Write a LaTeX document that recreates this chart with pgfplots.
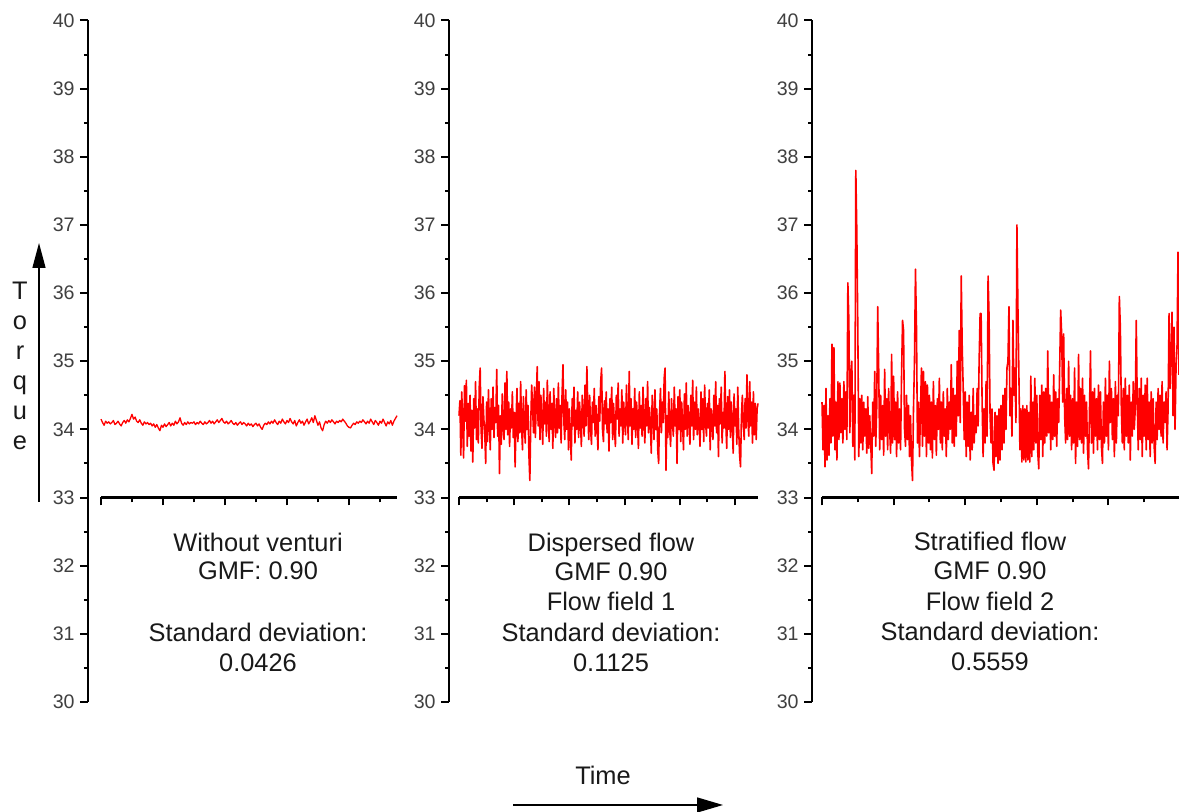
\documentclass[border=0pt]{standalone}
\usepackage{fontspec}
\setmainfont{Liberation Sans}
\usepackage{pgfplots}
\usepackage{pgfplotstable}
\pgfplotsset{compat=1.18}
\usetikzlibrary{arrows.meta}

% Panel 1: without venturi
\pgfplotstableread[row sep=\\, header=false]{
34.15\\34.10\\34.06\\34.12\\34.09\\34.11\\34.08\\34.10\\34.13\\34.07\\34.09\\34.12\\34.08\\34.05\\34.10\\34.13\\34.09\\34.14\\34.11\\34.16\\
34.22\\34.15\\34.18\\34.12\\34.10\\34.14\\34.09\\34.06\\34.11\\34.08\\34.10\\34.07\\34.09\\34.05\\34.08\\34.03\\34.07\\34.02\\33.98\\34.06\\
34.03\\34.08\\34.04\\34.07\\34.10\\34.05\\34.09\\34.06\\34.12\\34.08\\34.11\\34.17\\34.09\\34.06\\34.10\\34.07\\34.11\\34.08\\34.10\\34.09\\
34.11\\34.07\\34.10\\34.08\\34.12\\34.09\\34.07\\34.11\\34.08\\34.10\\34.13\\34.09\\34.12\\34.08\\34.11\\34.14\\34.10\\34.13\\34.16\\34.11\\
34.09\\34.12\\34.08\\34.10\\34.13\\34.09\\34.07\\34.10\\34.06\\34.09\\34.11\\34.07\\34.10\\34.08\\34.05\\34.09\\34.06\\34.08\\34.04\\34.07\\
34.09\\34.05\\34.08\\34.03\\34.00\\34.06\\34.09\\34.07\\34.11\\34.08\\34.12\\34.09\\34.14\\34.10\\34.07\\34.12\\34.09\\34.15\\34.11\\34.08\\
34.13\\34.10\\34.16\\34.11\\34.08\\34.13\\34.05\\34.10\\34.14\\34.09\\34.12\\34.06\\34.11\\34.15\\34.08\\34.12\\34.17\\34.10\\34.20\\34.13\\
34.06\\34.11\\34.02\\33.98\\34.07\\34.12\\34.09\\34.13\\34.10\\34.14\\34.11\\34.08\\34.12\\34.10\\34.13\\34.11\\34.15\\34.12\\34.09\\34.05\\
34.03\\34.02\\34.06\\34.09\\34.07\\34.11\\34.09\\34.12\\34.10\\34.14\\34.11\\34.08\\34.12\\34.09\\34.15\\34.11\\34.07\\34.13\\34.10\\34.06\\
34.12\\34.09\\34.15\\34.10\\34.05\\34.11\\34.08\\34.13\\34.06\\34.12\\34.16\\34.20\\
}\dataA

% Panel 2: dispersed flow
\pgfplotstableread[row sep=\\, header=false]{
34.20\\34.42\\33.62\\34.55\\34.05\\33.58\\34.64\\34.12\\34.72\\33.75\\34.38\\33.90\\34.50\\33.68\\34.28\\33.52\\34.45\\34.02\\34.70\\33.85\\
34.30\\33.80\\34.62\\34.90\\34.00\\33.72\\34.48\\34.15\\33.95\\33.50\\34.40\\33.82\\34.58\\34.10\\33.70\\34.45\\34.00\\34.62\\33.88\\34.32\\
34.10\\34.88\\33.90\\34.35\\33.35\\34.20\\33.78\\34.52\\34.05\\33.85\\34.68\\34.00\\34.85\\33.92\\34.40\\33.75\\34.30\\34.02\\34.55\\33.88\\
34.25\\33.45\\34.12\\34.60\\33.82\\34.38\\33.95\\34.70\\34.05\\33.70\\34.48\\34.10\\33.80\\34.58\\34.00\\34.35\\33.62\\33.25\\34.10\\34.65\\
34.30\\33.95\\34.62\\33.88\\34.42\\34.92\\34.05\\34.70\\33.85\\34.50\\34.15\\33.78\\34.60\\34.08\\34.40\\33.90\\34.72\\34.20\\33.82\\34.55\\
34.00\\34.38\\33.72\\34.60\\34.10\\33.88\\34.45\\33.95\\34.68\\34.02\\34.35\\33.80\\34.50\\34.95\\34.10\\33.85\\34.58\\34.00\\34.40\\33.70\\
34.30\\33.92\\33.55\\34.45\\34.05\\34.62\\33.80\\34.28\\34.00\\34.55\\33.88\\34.40\\34.12\\33.75\\34.50\\34.20\\33.90\\34.65\\34.05\\34.92\\
34.30\\33.85\\34.50\\34.02\\33.78\\34.40\\34.10\\34.60\\33.90\\34.35\\34.05\\33.70\\34.48\\34.12\\34.70\\34.90\\34.00\\33.82\\34.42\\34.08\\
34.55\\33.95\\34.30\\33.68\\34.45\\34.10\\34.62\\33.85\\34.38\\34.00\\33.75\\34.50\\34.15\\34.68\\33.90\\34.30\\34.05\\34.58\\33.80\\34.40\\
34.10\\33.92\\34.65\\34.20\\33.85\\34.85\\34.05\\34.45\\33.78\\34.30\\34.00\\34.60\\33.88\\34.40\\34.12\\33.72\\34.55\\34.02\\34.35\\33.90\\
34.62\\34.10\\33.80\\34.45\\34.05\\34.70\\33.95\\34.32\\34.08\\33.65\\34.50\\34.15\\33.85\\34.58\\34.00\\34.30\\33.70\\33.50\\34.25\\34.60\\
33.95\\34.40\\34.10\\34.75\\34.90\\33.40\\34.20\\33.88\\34.55\\34.02\\33.75\\34.45\\34.10\\33.90\\34.62\\34.05\\34.30\\33.50\\34.48\\34.00\\
34.58\\33.82\\34.40\\34.10\\33.70\\34.52\\34.00\\34.68\\33.90\\34.35\\34.12\\33.78\\34.50\\34.05\\34.72\\33.85\\34.40\\34.00\\34.62\\33.92\\
34.30\\34.08\\33.75\\34.55\\34.00\\34.45\\33.82\\34.65\\34.10\\33.90\\34.38\\34.02\\34.58\\33.70\\34.30\\34.12\\33.85\\34.50\\34.05\\34.70\\
33.95\\34.35\\33.60\\34.45\\34.08\\34.62\\33.80\\34.25\\34.02\\34.85\\34.10\\33.72\\34.48\\34.00\\34.58\\33.88\\34.40\\34.10\\33.65\\34.52\\
34.05\\34.30\\33.78\\34.62\\34.00\\33.62\\33.45\\34.20\\34.50\\34.10\\33.85\\34.45\\34.02\\34.80\\34.15\\33.90\\34.70\\34.05\\34.40\\33.80\\
34.55\\33.92\\34.38\\33.85\\34.30\\34.38\\
}\dataB

% Panel 3: stratified flow
\pgfplotstableread[row sep=\\, header=false]{
34.40\\33.70\\34.35\\33.45\\34.60\\33.55\\34.20\\33.62\\34.45\\33.80\\35.25\\33.90\\35.20\\33.70\\34.40\\33.55\\34.70\\33.85\\34.68\\33.95\\
34.45\\33.80\\34.70\\34.00\\34.55\\33.85\\36.15\\35.60\\33.95\\34.80\\35.00\\33.75\\34.50\\33.55\\37.80\\36.90\\35.50\\33.60\\34.45\\33.80\\
34.50\\33.70\\34.40\\33.90\\34.30\\33.65\\34.48\\33.72\\34.20\\33.80\\33.35\\34.40\\33.90\\34.85\\33.75\\34.30\\35.80\\34.90\\33.70\\34.50\\
33.85\\34.35\\33.62\\34.88\\33.90\\34.45\\33.70\\34.60\\34.00\\33.65\\35.10\\33.80\\34.78\\33.85\\34.40\\33.60\\34.55\\33.80\\34.30\\33.70\\
34.80\\35.60\\35.45\\34.00\\33.75\\34.50\\33.85\\34.35\\33.60\\34.20\\33.55\\33.25\\34.30\\35.00\\36.35\\35.50\\33.80\\34.40\\33.60\\34.25\\
34.90\\33.75\\34.85\\33.90\\34.70\\33.60\\34.65\\33.80\\34.50\\33.70\\34.40\\33.58\\34.70\\33.85\\34.35\\33.62\\34.45\\34.00\\34.75\\33.80\\
34.40\\33.70\\34.55\\33.90\\34.30\\33.60\\34.60\\33.85\\34.40\\34.00\\34.95\\33.80\\34.60\\33.75\\34.50\\33.90\\35.00\\34.20\\35.45\\34.10\\
36.25\\35.20\\34.60\\33.85\\34.55\\33.60\\34.40\\33.75\\34.50\\33.55\\34.25\\33.70\\34.60\\33.80\\34.20\\33.95\\34.60\\34.05\\35.00\\35.70\\
35.70\\34.40\\33.60\\34.30\\33.80\\34.70\\33.90\\36.25\\35.65\\34.20\\33.80\\34.30\\33.50\\33.40\\34.25\\33.60\\34.20\\33.50\\34.30\\33.55\\
34.35\\33.70\\34.50\\33.80\\34.60\\34.00\\34.90\\35.00\\35.80\\34.20\\34.60\\33.90\\35.60\\34.50\\34.90\\34.10\\37.00\\35.80\\34.80\\33.70\\
34.30\\33.52\\34.35\\33.55\\34.30\\33.52\\34.35\\33.55\\34.25\\33.52\\34.78\\33.60\\34.40\\33.70\\34.75\\33.80\\34.50\\33.65\\33.42\\34.50\\
33.85\\34.65\\33.60\\34.55\\33.80\\34.60\\33.90\\35.15\\33.95\\34.50\\33.70\\34.40\\33.85\\34.80\\33.90\\34.55\\33.75\\34.45\\34.10\\34.90\\
35.75\\35.40\\34.40\\35.40\\34.20\\33.80\\34.60\\33.85\\35.00\\33.90\\34.50\\33.70\\34.45\\33.80\\34.90\\33.50\\34.40\\33.75\\35.10\\33.85\\
34.60\\33.80\\34.75\\33.65\\34.50\\33.90\\34.40\\33.70\\33.42\\34.30\\35.15\\33.80\\34.55\\33.65\\34.60\\33.90\\34.45\\33.70\\34.65\\33.85\\
34.55\\33.75\\33.50\\34.40\\33.80\\34.75\\33.90\\34.50\\33.70\\35.00\\34.10\\34.60\\33.85\\34.45\\33.60\\34.70\\33.80\\34.50\\34.20\\35.95\\
35.50\\34.30\\33.80\\34.60\\33.70\\34.75\\33.90\\34.50\\33.80\\34.65\\33.55\\34.40\\33.90\\34.70\\34.00\\34.30\\35.60\\34.40\\33.70\\34.60\\
33.85\\34.75\\33.60\\34.50\\33.90\\34.65\\33.70\\34.75\\33.85\\34.40\\33.60\\34.55\\33.80\\34.45\\33.75\\33.50\\34.40\\33.85\\34.60\\34.00\\
34.50\\33.90\\34.70\\33.80\\34.40\\34.10\\34.55\\33.70\\34.30\\35.70\\34.60\\35.10\\35.72\\34.20\\35.50\\34.00\\34.90\\35.20\\36.60\\34.80\\
}\dataC

\definecolor{ticklab}{HTML}{404040}

\pgfplotsset{
  yonly/.style={
    scale only axis, width=2pt, height=340.75pt,
    xmin=0, xmax=1, ymin=30, ymax=40, enlargelimits=false,
    axis y line=left, axis x line=none,
    axis line style={-, line width=1.2pt, black},
    ytick={30,31,...,40}, minor y tick num=1,
    tick align=outside, major tick length=4pt, minor tick length=2pt,
    every tick/.style={black, line width=1pt},
    yticklabel style={font=\fontsize{9.8}{11}\selectfont, text=ticklab, inner sep=2.5pt},
    /pgf/number format/assume math mode=true,
    anchor=south west,
  },
  data/.style={
    scale only axis, height=238.5pt,
    ymin=33, ymax=40, enlargelimits=false,
    axis x line=bottom, axis y line=none,
    axis line style={-, line width=1.2pt, black},
    xticklabels={},
    tick align=outside, major tick length=4pt, minor tick length=2.5pt,
    every tick/.style={black, line width=1pt},
    anchor=south west, clip=false,
  },
  sig/.style={red, line width=0.6pt, mark=none, line join=round},
}

\begin{document}
\begin{tikzpicture}
\useasboundingbox (0pt,0pt) rectangle (589.5pt,406pt);

% ---- Panel 1
\begin{axis}[yonly, at={(44pt,55pt)}]
\end{axis}
\begin{axis}[data, at={(50.5pt,157.25pt)}, width=148pt,
  xmin=0, xmax=191, xtick={0,40,...,160}, minor xtick={20,60,...,180}]
\addplot[sig, line width=0.65pt] table[x expr=\coordindex, y index=0]{\dataA};
\end{axis}

% ---- Panel 2
\begin{axis}[yonly, at={(224.5pt,55pt)}]
\end{axis}
\begin{axis}[data, at={(229.5pt,157.25pt)}, width=149.5pt,
  xmin=0, xmax=325, xtick={0,60,...,300}, minor xtick={30,90,...,270}]
\addplot[sig, line width=0.8pt] table[x expr=\coordindex, y index=0]{\dataB};
\end{axis}

% ---- Panel 3
\begin{axis}[yonly, at={(406pt,55pt)}]
\end{axis}
\begin{axis}[data, at={(411pt,157.25pt)}, width=178.5pt,
  xmin=0, xmax=359, xtick={0,72,...,288}, minor xtick={36,108,...,324}]
\addplot[sig, line width=0.8pt] table[x expr=\coordindex, y index=0]{\dataC};
\end{axis}

% ---- annotations
\tikzset{ann/.style={anchor=base, font=\fontsize{12.7}{14.5}\selectfont, text=black!90, inner sep=0pt}}
\node[ann] at (129pt,130pt) {Without venturi};
\node[ann] at (129pt,116pt) {GMF: 0.90};
\node[ann] at (129pt,85pt) {Standard deviation:};
\node[ann] at (129pt,70pt) {0.0426};

\node[ann] at (305.5pt,130pt) {Dispersed flow};
\node[ann] at (305.5pt,115.5pt) {GMF 0.90};
\node[ann] at (305.5pt,100.5pt) {Flow field 1};
\node[ann] at (305.5pt,85pt) {Standard deviation:};
\node[ann] at (305.5pt,70pt) {0.1125};

\node[ann] at (495pt,130.5pt) {Stratified flow};
\node[ann] at (495pt,116pt) {GMF 0.90};
\node[ann] at (495pt,100.5pt) {Flow field 2};
\node[ann] at (495pt,85.5pt) {Standard deviation:};
\node[ann] at (495pt,70.5pt) {0.5559};

% Torque label and arrow
\node[ann] at (10pt,256pt) {T};
\node[ann] at (10pt,241pt) {o};
\node[ann] at (10pt,226pt) {r};
\node[ann] at (10pt,211pt) {q};
\node[ann] at (10pt,196pt) {u};
\node[ann] at (10pt,181pt) {e};
\draw[line width=0.7pt, -{Triangle[length=12.5pt,width=6.5pt]}] (19.5pt,155pt) -- (19.5pt,284.5pt);

% Time label and arrow
\node[ann] at (301.5pt,13.5pt) {Time};
\draw[line width=0.7pt, -{Triangle[length=13pt,width=7.5pt]}] (256.5pt,3.5pt) -- (361.5pt,3.5pt);
\end{tikzpicture}
\end{document}
